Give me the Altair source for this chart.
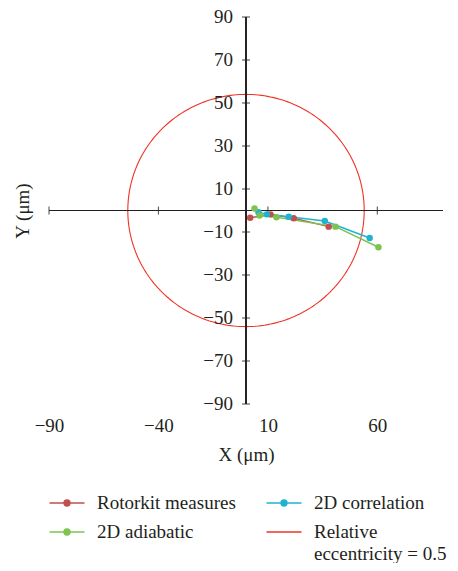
import altair as alt
import numpy as np
import pandas as pd

# ---- data ----
series_names = ["Rotorkit measures", "2D adiabatic", "2D correlation", "Relative eccentricity = 0.5"]
series_colors = ["#c0504d", "#7dc350", "#1fb3d1", "#ee3325"]

rot_x = [1.9, 11.2, 21.8, 37.8]
rot_y = [-3.4, -1.8, -3.6, -7.5]
corr_x = [5.7, 9.5, 19.5, 36.0, 56.5]
corr_y = [-0.8, -1.8, -2.9, -4.9, -12.8]
adia_x = [3.9, 6.2, 13.9, 40.9, 60.5]
adia_y = [0.9, -2.3, -3.1, -7.5, -17.1]
ecc_radius = 54.0

x_ticks = [-90, -40, 10, 60]
y_ticks = [90, 70, 50, 30, 10, -10, -30, -50, -70, -90]
y_tick_labels = ["90", "70", "50", "30", "10", "\u221210", "\u221230", "\u221250", "\u221270", "\u221290"]

# ---- tables ----
rows = []
for name, xs, ys in [("Rotorkit measures", rot_x, rot_y),
                     ("2D correlation", corr_x, corr_y),
                     ("2D adiabatic", adia_x, adia_y)]:
    for i, (a, b) in enumerate(zip(xs, ys)):
        rows.append({"series": name, "x": a, "y": b, "i": i})
pts = pd.DataFrame(rows)

theta = np.linspace(0, 2 * np.pi, 241)
circ = pd.DataFrame({"x": ecc_radius * np.cos(theta), "y": ecc_radius * np.sin(theta),
                     "i": np.arange(len(theta)), "series": "Relative eccentricity = 0.5"})

xt = pd.DataFrame({"v": x_ticks})
yt = pd.DataFrame({"v": y_ticks, "label": y_tick_labels})

legend_rows = pd.DataFrame({"series": series_names,
                            "x": [rot_x[0], adia_x[0], corr_x[0], ecc_radius],
                            "y": [rot_y[0], adia_y[0], corr_y[0], 0.0]})

FONT = "Liberation Serif"
FS = 19
INK = "#231f20"

xscale = alt.Scale(domain=[-90, 90], nice=False, zero=False)
yscale = alt.Scale(domain=[-90, 90], nice=False, zero=False)
cscale = alt.Scale(domain=series_names, range=series_colors)

# wide, flat legend glyphs (line with a dot) so the entry height stays small
linedot = ("M-2,0L2,0M-0.33,0A0.33,0.33,0,1,1,0.33,0"
           "A0.33,0.33,0,1,1,-0.33,0Z")
lineonly = "M-2,0L2,0"

legend = alt.Legend(title=None, orient="none", legendX=8, legendY=476, columns=2,
                    symbolSize=306, symbolStrokeWidth=1.6, labelOffset=20,
                    columnPadding=27, rowPadding=9, labelFont=FONT, labelFontSize=FS,
                    labelColor=INK, labelLimit=400,
                    labelExpr="datum.label == 'Relative eccentricity = 0.5' ? ['Relative', 'eccentricity = 0.5'] : datum.label")

x_axis = alt.Axis(values=x_ticks, format="d", domain=False, ticks=False, tickSize=0,
                  grid=False, labelPadding=12, labelFlush=False, title="X (\u03bcm)", titlePadding=10,
                  labelFont=FONT, labelFontSize=FS, labelColor=INK,
                  titleFont=FONT, titleFontSize=FS, titleFontWeight="normal", titleColor=INK)
y_axis = alt.Axis(labels=False, domain=False, ticks=False, tickSize=0, grid=False,
                  title="Y (\u03bcm)", titlePadding=17,
                  titleFont=FONT, titleFontSize=FS, titleFontWeight="normal", titleColor=INK)


def X(field=None, datum=None):
    if datum is not None:
        return alt.X(datum=datum, scale=xscale, axis=x_axis, title="X (\u03bcm)")
    return alt.X(field, type="quantitative", scale=xscale, axis=x_axis, title="X (\u03bcm)")


def Y(field=None, datum=None):
    if datum is not None:
        return alt.Y(datum=datum, scale=yscale, axis=y_axis, title="Y (\u03bcm)")
    return alt.Y(field, type="quantitative", scale=yscale, axis=y_axis, title="Y (\u03bcm)")


color = alt.Color("series:N", scale=cscale, legend=legend)

circle_layer = alt.Chart(circ).mark_line(strokeWidth=1.1).encode(
    x=X("x"), y=Y("y"), order="i:Q", color=color)

hline = alt.Chart(xt).mark_rule(color=INK, strokeWidth=1.2).encode(y=Y(datum=0))
vline = alt.Chart(xt).mark_rule(color=INK, strokeWidth=1.2).encode(x=X(datum=0))

xtick_layer = alt.Chart(xt).mark_tick(orient="vertical", size=8, thickness=1.2, color=INK).encode(
    x=X("v"), y=Y(datum=0))
ytick_layer = alt.Chart(yt).mark_tick(orient="horizontal", size=8, thickness=1.2, color=INK).encode(
    y=Y("v"), x=X(datum=0))
ylab_layer = alt.Chart(yt).mark_text(align="right", baseline="middle", dx=-13, font=FONT,
                                      fontSize=FS, color=INK).encode(
    y=Y("v"), x=X(datum=0), text="label:N")

lines_layer = alt.Chart(pts).mark_line(strokeWidth=1.5).encode(
    x=X("x"), y=Y("y"), order="i:Q", color=color)
points_layer = alt.Chart(pts).mark_circle(size=42, opacity=1).encode(
    x=X("x"), y=Y("y"), color=color)

legend_layer = alt.Chart(legend_rows).mark_point(filled=True, opacity=0, size=306).encode(
    x=X("x"), y=Y("y"),
    color=color,
    stroke=alt.Stroke("series:N", scale=cscale, legend=legend),
    shape=alt.Shape("series:N", scale=alt.Scale(domain=series_names,
                                                 range=[linedot, linedot, linedot, lineonly]),
                    legend=legend))

chart = alt.layer(circle_layer, hline, vline, xtick_layer, ytick_layer, ylab_layer,
                  lines_layer, points_layer, legend_layer).properties(
    width=394, height=387,
    autosize=alt.AutoSizeParams(type="none"),
    padding={"left": 41, "top": 9, "right": 7, "bottom": 159},
    background="white",
).configure(view=alt.ViewConfig(stroke=None),
            style={"guide-label": {"lineHeight": 22}})

chart.save("out.html", embed_options={"renderer": "svg", "actions": False})
